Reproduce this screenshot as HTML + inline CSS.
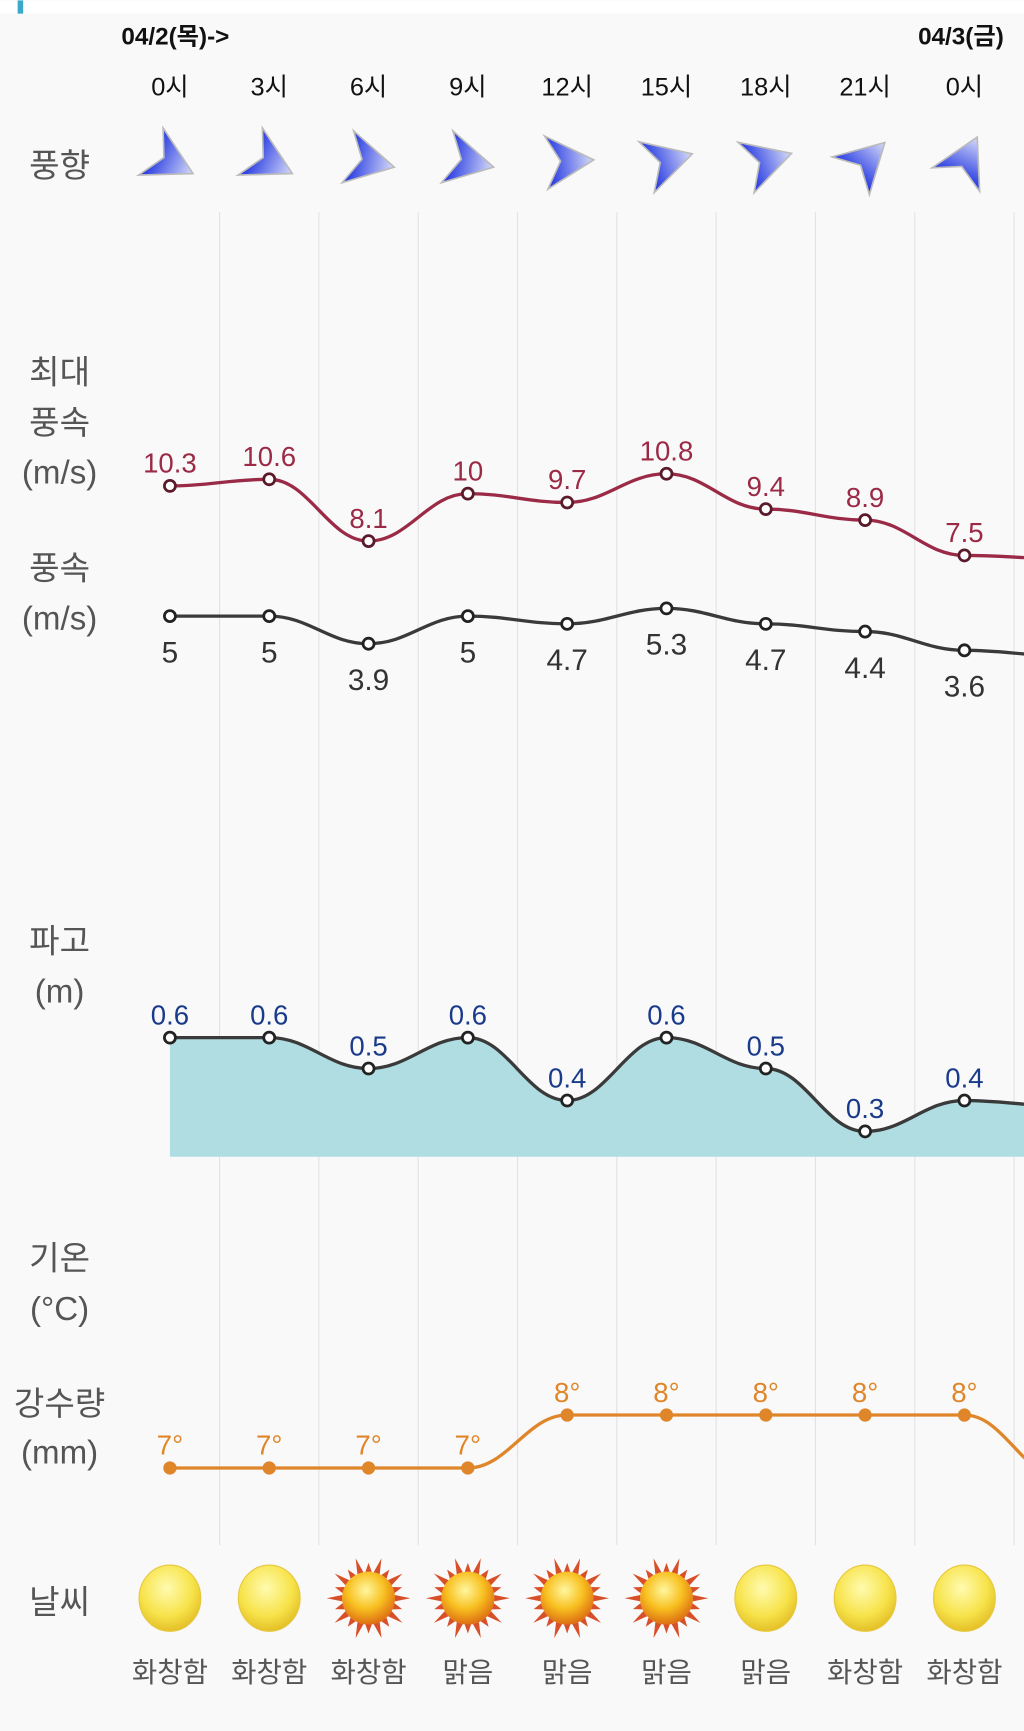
<!DOCTYPE html>
<html><head><meta charset="utf-8">
<style>
html,body{margin:0;padding:0;background:#f9f9f9;}
svg{display:block;}
text{font-family:"Liberation Sans","Noto Sans CJK KR",sans-serif;}
</style></head>
<body>
<svg id="s" width="1024" height="1731" viewBox="0 0 928 1568" xmlns="http://www.w3.org/2000/svg">
<defs>
<linearGradient id="ag" x1="0" y1="0" x2="1" y2="0"><stop offset="0" stop-color="#1a2fe0"/><stop offset="1" stop-color="#d8dcf8"/></linearGradient>
<radialGradient id="moon" cx="0.45" cy="0.35" r="0.7"><stop offset="0" stop-color="#fffbb0"/><stop offset="0.6" stop-color="#f7e34a"/><stop offset="1" stop-color="#e0b820"/></radialGradient>
<radialGradient id="sun" cx="0.45" cy="0.35" r="0.7"><stop offset="0" stop-color="#fff7a0"/><stop offset="0.5" stop-color="#f8c020"/><stop offset="1" stop-color="#d86010"/></radialGradient>
</defs>
<rect x="0" y="0" width="928" height="12" fill="#ffffff"/>
<rect x="16" y="0" width="5" height="12" fill="#3aa8c8"/>
<g id="grid" stroke="#e2e2e2" stroke-width="1"></g>
<g font-size="22" fill="#111" font-weight="bold">
<text x="110" y="40">04/2(목)-&gt;</text>
<text x="832" y="40">04/3(금)</text>
</g>
<g id="hours" font-size="23" fill="#111" text-anchor="middle"></g>
<g font-size="30" fill="#555" text-anchor="middle">
<text x="54" y="160">풍향</text>
<text x="54" y="347">최대</text>
<text x="54" y="393">풍속</text>
<text x="54" y="438">(m/s)</text>
<text x="54" y="525">풍속</text>
<text x="54" y="570">(m/s)</text>
<text x="54" y="863">파고</text>
<text x="54" y="908">(m)</text>
<text x="54" y="1150">기온</text>
<text x="54" y="1196">(°C)</text>
<text x="54" y="1282">강수량</text>
<text x="54" y="1326">(mm)</text>
<text x="54" y="1462">날씨</text>
</g>
<g id="arrows"></g>
<path id="wave" fill="#b0dde2" stroke="none"/>
<path id="wavel" fill="none" stroke="#3a3a3a" stroke-width="3"/>
<path id="maxl" fill="none" stroke="#9a2a45" stroke-width="3"/>
<path id="windl" fill="none" stroke="#3a3a3a" stroke-width="3"/>
<path id="templ" fill="none" stroke="#e0862a" stroke-width="3"/>
<g id="pts"></g>
<g id="icons"></g>
</svg>
<script>
var NS="http://www.w3.org/2000/svg";
var X=[154,244,334,424,514,604,694,784,874];
function el(p,t,a,txt){var e=document.createElementNS(NS,t);for(var k in a)e.setAttribute(k,a[k]);if(txt!=null)e.textContent=txt;document.getElementById(p).appendChild(e);return e;}
for(var i=0;i<9;i++){el('grid','line',{x1:X[i]+45,y1:192,x2:X[i]+45,y2:1400});}
var H=['0시','3시','6시','9시','12시','15시','18시','21시','0시'];
H.forEach(function(h,i){el('hours','text',{x:X[i],y:86},h);});
var ang=[25,25,10,10,-6,-19,-20,-47,-66];
ang.forEach(function(a,i){var g=el('arrows','g',{transform:'translate('+X[i]+',145) rotate('+a+')'});
 var p=document.createElementNS(NS,'path');p.setAttribute('d','M-18,-24 L24,2 L-20,24 L-6,0 Z');p.setAttribute('fill','url(#ag)');p.setAttribute('stroke','#bbb');p.setAttribute('stroke-width','1.5');g.appendChild(p);});
function smooth(xs,ys){var d='M'+xs[0]+','+ys[0];for(var i=0;i<xs.length-1;i++){var x0=xs[i],x1=xs[i+1];var dx=(x1-x0)/2.5;d+=' C'+(x0+dx)+','+ys[i]+' '+(x1-dx)+','+ys[i+1]+' '+x1+','+ys[i+1];}return d;}
var XE=X.concat([964]);
function series(id,ys,yend){var d=smooth(XE,ys.concat([yend]));document.getElementById(id).setAttribute('d',d);return d;}
var mx=[440,434,490,447,455,429,461,471,503],wd=[558,558,583,558,565,551,565,572,589],wv=[940,940,968,940,997,940,968,1025,997],tp=[1330,1330,1330,1330,1282,1282,1282,1282,1282];
series('maxl',mx,506);series('windl',wd,594);var wdp=series('wavel',wv,1002);series('templ',tp,1340);
document.getElementById('wave').setAttribute('d',wdp+' L964,1048 L154,1048 Z');
var mxl=['10.3','10.6','8.1','10','9.7','10.8','9.4','8.9','7.5'],wdl=['5','5','3.9','5','4.7','5.3','4.7','4.4','3.6'],wvl=['0.6','0.6','0.5','0.6','0.4','0.6','0.5','0.3','0.4'];
for(var i=0;i<9;i++){
 el('pts','circle',{cx:X[i],cy:mx[i],r:5,fill:'#fff',stroke:'#5a1a2a','stroke-width':2.5});
 el('pts','text',{x:X[i],y:mx[i]-12,'text-anchor':'middle','font-size':25,fill:'#9a2a45'},mxl[i]);
 el('pts','circle',{cx:X[i],cy:wd[i],r:5,fill:'#fff',stroke:'#222','stroke-width':2.5});
 el('pts','text',{x:X[i],y:wd[i]+42,'text-anchor':'middle','font-size':27,fill:'#333'},wdl[i]);
 el('pts','circle',{cx:X[i],cy:wv[i],r:5,fill:'#fff',stroke:'#222','stroke-width':2.5});
 el('pts','text',{x:X[i],y:wv[i]-12,'text-anchor':'middle','font-size':25,fill:'#1a3a8a'},wvl[i]);
 el('pts','circle',{cx:X[i],cy:tp[i],r:6,fill:'#e0862a'});
 el('pts','text',{x:X[i],y:tp[i]-12,'text-anchor':'middle','font-size':25,fill:'#e0862a'},(i<4?'7°':'8°'));
}
var W=['화창함','화창함','화창함','맑음','맑음','맑음','맑음','화창함','화창함'];
var sun=[0,0,1,1,1,1,0,0,0];
for(var i=0;i<9;i++){
 var cx=X[i],cy=1448;
 if(sun[i]){var g=el('icons','g',{});for(var k=0;k<20;k++){var a=k*Math.PI/10,r1=24,r2=(k%2?32:38);
   var a1=a-0.12,a2=a+0.12;
   var p=document.createElementNS(NS,'polygon');p.setAttribute('points',(cx+r1*Math.cos(a1))+','+(cy+r1*Math.sin(a1))+' '+(cx+r2*Math.cos(a))+','+(cy+r2*Math.sin(a))+' '+(cx+r1*Math.cos(a2))+','+(cy+r1*Math.sin(a2)));p.setAttribute('fill','#d8502a');g.appendChild(p);}
  el('icons','circle',{cx:cx,cy:cy,r:24,fill:'url(#sun)'});}
 else el('icons','ellipse',{cx:cx,cy:cy,rx:28,ry:30,fill:'url(#moon)',stroke:'#e6c840','stroke-width':1});
 el('icons','text',{x:cx,y:1524,'text-anchor':'middle','font-size':25,fill:'#555'},W[i]);
}
</script>
</body></html>
